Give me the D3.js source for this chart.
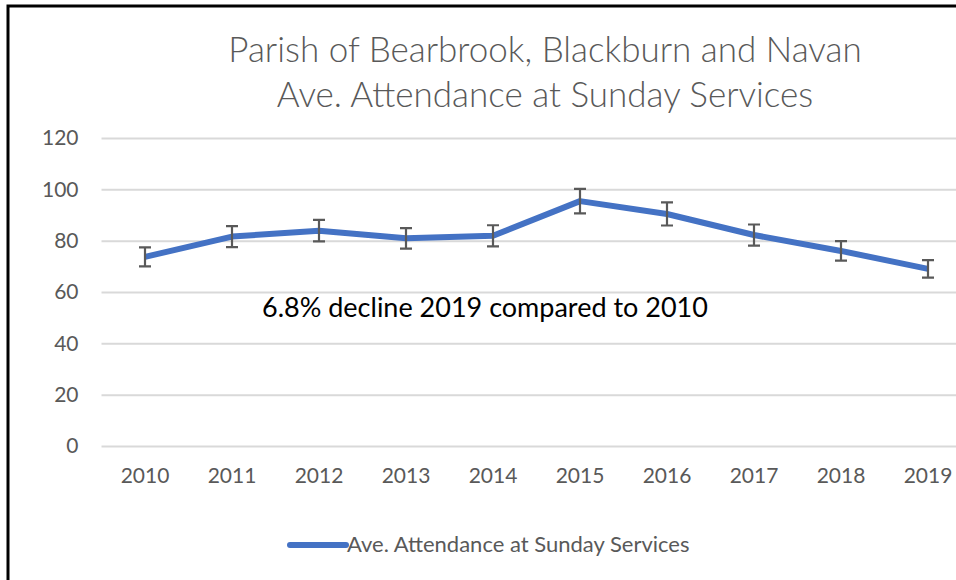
<!DOCTYPE html>
<html>
  <head>
    <meta charset="utf-8">
    <title>Parish of Bearbrook, Blackburn and Navan</title>
    <script src="https://d3js.org/d3.v7.min.js"></script>
    <style>
      body { margin: 0; background: #fff; }
      svg { display: block; font-family: Lato, "Open Sans", sans-serif; }
    </style>
  </head>
  <body>
    <div id="chart"></div>
    <script>
      // data
      var years = ["2010", "2011", "2012", "2013", "2014", "2015", "2016", "2017", "2018", "2019"];
      var attendance = [73.7, 81.6, 83.9, 80.9, 81.9, 95.4, 90.4, 82.2, 76.0, 69.0];
      var errors = [3.7, 4.1, 4.2, 4.0, 4.1, 4.8, 4.5, 4.1, 3.8, 3.4];
      var yTicks = [0, 20, 40, 60, 80, 100, 120];
      var titleLines = ["Parish of Bearbrook, Blackburn and Navan", "Ave. Attendance at Sunday Services"];
      var seriesName = "Ave. Attendance at Sunday Services";
      var note = "6.8% decline 2019 compared to 2010";

      var width = 956, height = 580;
      var blue = "#4472C4", grey = "#595959";

      var svg = d3.select("#chart")
        .append("svg")
        .attr("width", width)
        .attr("height", height);

      // frame (cropped on the right and bottom)
      svg.append("path")
        .attr("d", "M8," + height + "V6H" + width)
        .attr("fill", "none")
        .attr("stroke", "#000")
        .attr("stroke-width", 3);

      var x = d3.scaleBand()
        .domain(years)
        .range([101.5, 971.5]);
      var y = d3.scaleLinear()
        .domain([0, 120])
        .range([446, 138]);

      // title
      svg.append("g")
        .selectAll("text")
          .data(titleLines)
        .enter().append("text")
          .attr("x", 545)
          .attr("y", function(d, i) { return 62 + i * 45; })
          .attr("text-anchor", "middle")
          .attr("fill", grey)
          .style("font-size", "35px")
          .style("font-weight", 300)
          .text(function(d) { return d; });

      // gridlines + y axis
      var yAxis = svg.append("g")
        .attr("transform", "translate(101.5,0)")
        .call(d3.axisLeft(y).tickValues(yTicks).tickSize(-870).tickPadding(23));
      yAxis.select(".domain").remove();
      yAxis.selectAll(".tick line")
        .attr("stroke", "#d9d9d9")
        .attr("stroke-width", 2);
      yAxis.selectAll(".tick text")
        .attr("fill", grey)
        .style("font-size", "21px")
        .style("font-family", "Lato, sans-serif");

      // x axis labels
      var xAxis = svg.append("g")
        .attr("transform", "translate(0,446)")
        .call(d3.axisBottom(x).tickSize(0).tickPadding(22));
      xAxis.select(".domain").remove();
      xAxis.selectAll(".tick text")
        .attr("fill", grey)
        .style("font-size", "21px")
        .style("font-family", "Lato, sans-serif");

      var cx = function(i) { return x(years[i]) + x.bandwidth() / 2; };

      // line
      var line = d3.line()
        .x(function(d, i) { return cx(i); })
        .y(function(d) { return y(d); });
      svg.append("path")
        .datum(attendance)
        .attr("d", line)
        .attr("fill", "none")
        .attr("stroke", blue)
        .attr("stroke-width", 6)
        .attr("stroke-linejoin", "round");

      // error bars
      var bars = svg.append("g")
        .selectAll("g")
          .data(attendance)
        .enter().append("g")
          .attr("stroke", grey)
          .attr("stroke-width", 2.2)
          .attr("fill", "none");
      bars.append("path")
        .attr("d", function(d, i) {
          var x0 = cx(i), hi = y(d + errors[i]), lo = y(d - errors[i]);
          return "M" + x0 + "," + hi + "V" + lo +
            "M" + (x0 - 6) + "," + hi + "H" + (x0 + 6) +
            "M" + (x0 - 6) + "," + lo + "H" + (x0 + 6);
        });

      // annotation
      svg.append("text")
        .attr("x", 262)
        .attr("y", 317)
        .attr("fill", "#000")
        .style("font-size", "27px")
        .text(note);

      // legend
      var legend = svg.append("g")
        .attr("transform", "translate(290,545)");
      legend.append("line")
        .attr("x1", 0)
        .attr("x2", 56)
        .attr("stroke", blue)
        .attr("stroke-width", 6)
        .attr("stroke-linecap", "round");
      legend.append("text")
        .attr("x", 57)
        .attr("y", 7)
        .attr("fill", grey)
        .style("font-size", "22px")
        .text(seriesName);
    </script>
  </body>
</html>
